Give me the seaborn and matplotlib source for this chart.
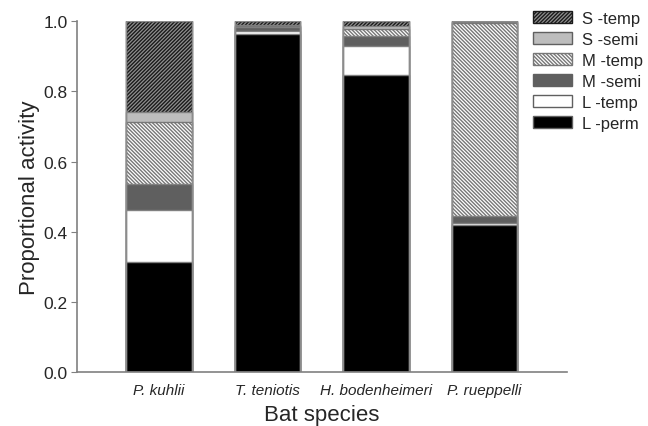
import matplotlib
matplotlib.use("Agg")
import matplotlib.pyplot as plt
import seaborn as sns
import numpy as np
from matplotlib.patches import Patch

# data (proportion of activity per call type)
species = ["P. kuhlii", "T. teniotis", "H. bodenheimeri", "P. rueppelli"]
l_perm = [0.313, 0.963, 0.846, 0.418]
l_temp = [0.149, 0.008, 0.084, 0.006]
m_semi = [0.074, 0.012, 0.028, 0.020]
m_temp = [0.177, 0.003, 0.021, 0.551]
s_semi = [0.027, 0.002, 0.008, 0.004]
s_temp = [0.260, 0.012, 0.013, 0.001]

layer_names = ["L -perm", "L -temp", "M -semi", "M -temp", "S -semi", "S -temp"]
layers = [l_perm, l_temp, m_semi, m_temp, s_semi, s_temp]
# face, hatch, hatch colour
styles = {
    "L -perm": ("black", "", "#808080"),
    "L -temp": ("white", "", "#808080"),
    "M -semi": ("#5f5f5f", "", "#808080"),
    "M -temp": ("white", "\\" * 9, "#777777"),
    "S -semi": ("#bdbdbd", "", "#808080"),
    "S -temp": ("#909090", "/" * 9, "#1a1a1a"),
}

sns.set_style("ticks")
plt.rcParams["font.family"] = ["Liberation Sans", "DejaVu Sans"]
plt.rcParams["hatch.linewidth"] = 1.0

fig = plt.figure(figsize=(6.48, 4.27), dpi=100)
ax = fig.add_axes([0.119, 0.1265, 0.756, 0.8215])

cum = np.cumsum(np.array(layers), axis=0)
# draw the tallest stack first, then each lower layer on top of it
for i in range(len(layers) - 1, -1, -1):
    name = layer_names[i]
    face, hatch, hcol = styles[name]
    n0 = len(ax.patches)
    sns.barplot(x=species, y=cum[i], color=face, width=0.6, ax=ax,
                saturation=1, edgecolor=hcol if hatch else "#808080", linewidth=1)
    for p in ax.patches[n0:]:
        p.set_facecolor(face)
        if hatch:
            p.set_hatch(hatch)
            p.set_edgecolor(hcol)

# grey outline around each whole bar
sns.barplot(x=species, y=cum[-1], fill=False, width=0.6, ax=ax,
            edgecolor="#8c8c8c", linewidth=1)

ax.set_xlim(-0.755, 3.76)
ax.set_ylim(0, 1.0)
ax.set_yticks(np.arange(0, 1.01, 0.2))
ax.set_yticklabels([f"{v:.1f}" for v in np.arange(0, 1.01, 0.2)], fontsize=12.5)
ax.set_xticks(range(len(species)))
ax.set_xticklabels(species, fontsize=11, style="italic")
ax.tick_params(axis="x", length=0, pad=8)
ax.tick_params(axis="y", length=4, color="#808080", direction="out", pad=3)
for s in ["top", "right"]:
    ax.spines[s].set_visible(False)
for s in ["left", "bottom"]:
    ax.spines[s].set_color("#808080")
    ax.spines[s].set_linewidth(1.2)

ax.set_ylabel("Proportional activity", fontsize=16, labelpad=2)
ax.set_xlabel("Bat species", fontsize=16, labelpad=5)

handles = []
for name in reversed(layer_names):
    face, hatch, hcol = styles[name]
    handles.append(Patch(facecolor=face, hatch=hatch,
                         edgecolor=hcol if hatch else "#606060", label=name))
fig.legend(handles=handles, loc="upper left", bbox_to_anchor=(0.805, 1.0),
           frameon=False, fontsize=12, handlelength=2.3, handleheight=0.7,
           labelspacing=0.36, handletextpad=0.6, borderaxespad=0.3)

fig.savefig("out.png", dpi=100)
